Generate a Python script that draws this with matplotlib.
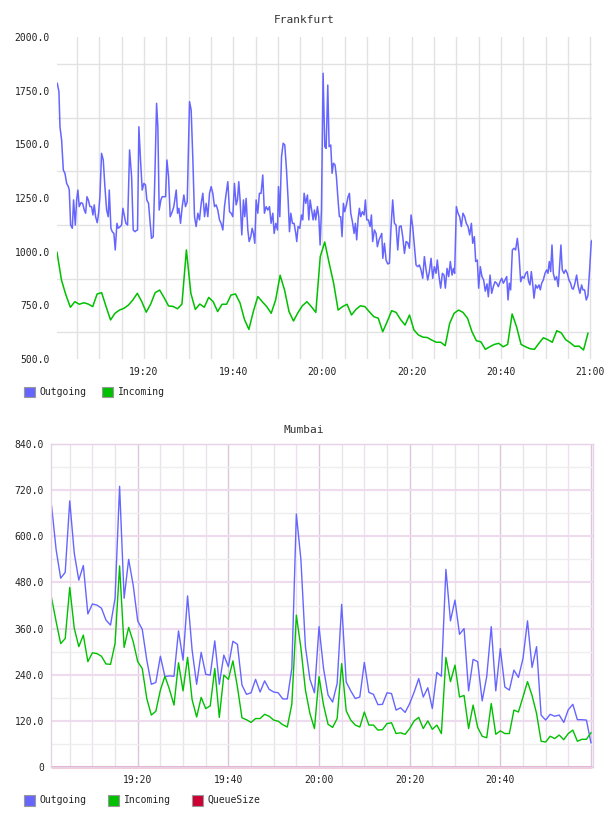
import numpy as np
import matplotlib
matplotlib.use('Agg')
import matplotlib.pyplot as plt
import matplotlib.dates as mdates
from matplotlib.patches import Rectangle
from matplotlib.ticker import FixedLocator, FuncFormatter

plt.rcParams['font.family'] = ['DejaVu Sans Mono']

# ---- Frankfurt: Outgoing (minutes after 19:00, value) ----
fra_out_t = [0.57, 0.94, 1.16, 1.54, 1.91, 2.28, 2.66, 3.03, 3.25, 3.55, 3.93, 4.22, 4.60, 4.90, 5.19, 5.49, 5.87,
             6.24, 6.61, 6.91, 7.21, 7.51, 7.88, 8.25, 8.55, 8.85, 9.15, 9.52, 9.82, 10.12, 10.49, 10.87, 11.24,
             11.61, 11.99, 12.21, 12.58, 12.88, 13.25, 13.55, 13.93, 14.22, 14.67, 14.97, 15.27, 15.64, 15.94,
             16.31, 16.76, 17.21, 17.58, 17.96, 18.25, 18.55, 18.85, 19.22, 19.60, 19.97, 20.34, 20.64, 21.01,
             21.31, 21.69, 22.06, 22.43, 22.81, 23.10, 23.40, 23.78, 24.07,
             24.83, 25.13, 25.50, 25.87, 26.32, 26.69, 27.22, 27.51, 27.81, 28.19, 28.56, 28.93, 29.30, 29.68,
             30.20, 30.57, 30.95, 31.32, 31.69, 32.07, 32.44, 32.81, 33.19, 33.56, 33.93, 34.30, 34.68, 35.05,
             35.42, 35.80, 36.17, 36.54, 36.92, 37.29, 37.66, 38.04, 38.41, 38.78, 39.16, 39.53, 39.90, 40.27,
             40.65, 40.95, 41.24, 41.54, 41.92, 42.29, 42.59, 42.89, 43.26, 43.56, 43.93, 44.23, 44.53, 44.83,
             45.13, 45.50, 45.87, 46.24, 46.62, 46.99, 47.36, 47.74, 48.11, 48.48, 48.86,
             49.17, 49.54, 49.91, 50.14, 50.43, 50.81, 51.18, 51.55, 51.93, 52.30, 52.60, 52.90, 53.27, 53.64,
             54.02, 54.24, 54.54, 54.91, 55.29, 55.58, 55.88, 56.25, 56.63, 56.93, 57.23, 57.52, 57.90, 58.20,
             58.49, 58.87, 59.17, 59.46, 59.76, 60.14, 60.51, 60.81, 61.18, 61.48, 61.85, 62.15, 62.45, 62.82,
             63.12, 63.49, 63.79, 64.09, 64.39, 64.69, 64.99, 65.36, 65.73, 66.03, 66.33, 66.70, 67.08, 67.37,
             67.67, 67.97, 68.27, 68.57, 68.94, 69.32, 69.61, 69.91, 70.29, 70.66, 70.96, 71.25, 71.63, 72.00,
             72.30, 72.67,
             73.28, 73.51, 73.88, 74.25, 74.62, 75.00, 75.37, 75.74, 76.12, 76.49, 76.86, 77.24, 77.61, 77.98,
             78.36, 78.73, 79.10, 79.48, 79.85, 80.22, 80.60, 80.97, 81.34, 81.71, 82.09, 82.46, 82.83, 83.21,
             83.58, 83.95, 84.33, 84.70, 85.07, 85.45, 85.74, 86.12, 86.49, 86.86, 87.24, 87.54, 87.91, 88.28,
             88.65, 89.03, 89.33, 89.62, 90.00, 90.37, 90.74, 91.12, 91.49, 91.86, 92.24, 92.61, 92.98, 93.36,
             93.66, 94.03, 94.33, 94.70, 95.00, 95.37, 95.74, 96.12, 96.49, 96.86,
             97.17, 97.55, 97.92, 98.29, 98.67, 99.04, 99.41, 99.79, 100.16, 100.53, 100.90, 101.28, 101.58,
             101.87, 102.17, 102.55, 102.92, 103.29, 103.67, 104.04, 104.41, 104.79, 105.16, 105.53, 105.90,
             106.20, 106.50, 106.80, 107.10, 107.40, 107.77, 108.14, 108.52, 108.81, 109.11, 109.49, 109.86,
             110.23, 110.53, 110.83, 111.13, 111.43, 111.73, 112.10, 112.47, 112.84, 113.14, 113.44, 113.74,
             114.11, 114.49, 114.86, 115.23, 115.60, 115.90, 116.20, 116.58, 116.95, 117.32, 117.70, 118.07,
             118.37, 118.74, 119.11, 119.49, 119.86, 120.23, 120.40]
fra_out_v = [1784, 1745, 1582, 1520, 1380, 1365, 1318, 1303, 1287, 1124, 1109, 1241, 1124, 1241, 1287, 1210, 1228,
             1225, 1194, 1179, 1256, 1241, 1210, 1210, 1171, 1218, 1163, 1135, 1179, 1256, 1458, 1427, 1303,
             1194, 1163, 1287, 1109, 1093, 1085, 1008, 1132, 1109, 1117, 1124, 1202, 1163, 1132,
             1124, 1474, 1350, 1101, 1093, 1098, 1101, 1582, 1427, 1287, 1318, 1311, 1241, 1225,
             1148, 1062, 1070, 1350, 1691, 1582, 1194, 1241, 1256,
             1256, 1427, 1350, 1163, 1186, 1210, 1287, 1179, 1202, 1132, 1210, 1264, 1210, 1233,
             1699, 1660, 1427, 1163, 1117, 1179, 1148, 1225, 1272, 1163, 1225, 1163, 1272, 1303,
             1272, 1210, 1218, 1194, 1148, 1132, 1101, 1210, 1272, 1326, 1186, 1179, 1163, 1318,
             1218, 1241, 1326, 1241, 1078, 1241, 1163, 1248, 1101, 1047, 1070, 1109, 1085, 1039,
             1241, 1179, 1272, 1272, 1357, 1179, 1210, 1194, 1210, 1132, 1179,
             1085, 1132, 1101, 1303, 1163, 1443, 1505, 1497, 1381, 1241, 1093, 1179, 1132, 1132,
             1085, 1047, 1117, 1109, 1171, 1148, 1272, 1225, 1264, 1148, 1241, 1202, 1148, 1194,
             1148, 1210, 1163, 1031, 1194, 1831, 1489, 1481, 1776, 1489, 1497, 1365, 1412, 1404,
             1350, 1241, 1163, 1163, 1070, 1225, 1186, 1218, 1256, 1272, 1179, 1140, 1085, 1132,
             1055, 1148, 1202, 1163, 1186, 1171, 1241, 1148, 1148, 1117, 1171, 1047, 1101, 1085,
             1023, 1055,
             1085, 969, 1039, 961, 943, 946, 1117, 1241, 1132, 1124, 1008, 1117, 1120, 1070,
             992, 1047, 1042, 1016, 1171, 1117, 1023, 938, 930, 938, 915, 876, 977, 915,
             868, 907, 969, 876, 930, 899, 961, 884, 830, 899, 891, 830, 922, 884,
             954, 891, 922, 899, 1210, 1179, 1163, 1117, 1179, 1163, 1132, 1117, 1078, 1132,
             1039, 1070, 954, 961, 830, 930, 884, 868, 816, 850,
             790, 891, 806, 837, 860, 853, 837, 860, 876, 853, 868, 884, 775,
             853, 822, 1008, 1016, 1008, 1062, 992, 860, 884, 876, 899, 907,
             860, 845, 907, 853, 783, 845, 830, 845, 822, 853, 868, 899,
             915, 899, 954, 907, 1031, 899, 868, 884, 837, 930, 1031, 915,
             899, 915, 899, 868, 853, 830, 825, 853, 891, 837, 806, 845,
             822, 822, 775, 795, 915, 1047, 1052]

# ---- Frankfurt: Incoming, one value per minute from 19:00:30 ----
fra_in_v = [997, 868, 798, 741, 767, 755, 762, 756, 744, 803, 809, 744, 682, 713, 728, 736, 751, 775, 806, 767,
            718, 756, 809, 821, 786, 747, 745, 734, 756, 1008, 806, 731, 756, 741, 787, 767, 721, 755, 755, 798,
            803, 762, 685, 638, 721, 791, 767, 744, 713, 775, 890, 821, 721, 677, 716,
            748, 767, 744, 717, 977, 1045, 946, 853, 728, 744, 755, 705, 731, 748, 744, 720, 697, 690,
            627, 674, 725, 717, 684, 658, 705, 635, 612, 602, 600, 588, 578, 578, 562, 666, 713, 728, 717, 690,
            627, 585, 580, 545,
            557, 568, 573, 557, 568, 710, 650, 568, 557, 548, 545, 573, 599, 590, 578, 632, 622, 590, 576, 559,
            560, 542, 620]

# ---- Mumbai: one value per minute from 19:01 ----
mum_out_v = [679, 565, 491, 506, 692, 556, 486, 524, 398, 424, 421, 413, 382, 369, 439, 730, 439, 540, 473, 380,
             358, 278, 215, 220, 288, 235, 237, 236, 354, 278, 445, 304, 215, 298, 241, 239, 328, 215, 291, 261,
             327, 319, 213, 189, 193, 228, 195, 224, 202, 195, 193, 177, 177, 256, 658, 540,
             313, 228, 193, 365, 256, 187, 169, 217, 423, 221, 198, 178, 182, 272, 194, 189, 162, 163, 193, 191,
             148, 154, 142, 165, 195, 230, 182, 206, 152, 246, 236, 514, 380, 434, 345, 360, 198, 280, 274, 172,
             235, 365, 198, 308, 208, 200, 252, 233, 282, 380, 259, 313, 135, 122, 137, 132, 135, 116, 149, 163,
             123, 123, 122, 63]
mum_in_v = [439, 378, 321, 334, 467, 361, 313, 343, 274, 297, 295, 288, 268, 267, 321, 523, 311, 363, 326, 274,
            256, 178, 135, 145, 200, 236, 202, 161, 271, 198, 285, 175, 130, 181, 152, 159, 256, 129, 239, 228,
            276, 208, 128, 123, 116, 126, 126, 137, 132, 122, 119, 110, 104, 163, 395, 310,
            200, 139, 100, 235, 161, 111, 103, 126, 269, 146, 122, 109, 104, 143, 109, 109, 96, 97, 113, 115,
            87, 89, 85, 100, 120, 129, 100, 120, 98, 109, 87, 285, 222, 265, 182, 186, 100, 161, 103, 80,
            76, 165, 85, 94, 87, 87, 148, 143, 182, 222, 186, 139, 67, 65, 80, 74, 83, 71, 87, 96,
            67, 72, 72, 89]
mum_queue_v = [0] * 120

BLUE = '#6666ff'
GREEN = '#00c000'
RED = '#cc0033'
TXT = '#222222'

base = np.datetime64('2024-01-01T19:00:00')


def to_time(minutes):
    return base + (np.asarray(minutes) * 60).round().astype(int).astype('timedelta64[s]')


fra_in_t = 0.5 + np.arange(len(fra_in_v))
mum_t = 1.0 + np.arange(len(mum_out_v))

W, H = 608, 816
fig = plt.figure(figsize=(W / 100, H / 100), dpi=100)


def fx(x):
    return x / W


def fy(y):
    return 1 - y / H


def style_time_axis(ax, skip_21=False):
    ax.xaxis.set_major_locator(mdates.MinuteLocator(byminute=[0, 20, 40]))
    ax.xaxis.set_minor_locator(mdates.MinuteLocator(byminute=range(0, 60, 5)))
    fmt = mdates.DateFormatter('%H:%M')
    if skip_21:
        ax.xaxis.set_major_formatter(FuncFormatter(
            lambda v, p: '' if mdates.num2date(v).hour == 21 else fmt(v, p)))
    else:
        ax.xaxis.set_major_formatter(fmt)
    ax.tick_params(which='both', length=0, labelsize=7, colors=TXT)
    ax.tick_params(axis='x', pad=6)
    ax.tick_params(axis='y', pad=5)
    ax.set_axisbelow(True)


# ---------------- Frankfurt ----------------
ax1 = fig.add_axes([fx(57), fy(359), fx(592) - fx(57), fy(37) - fy(359)])
ax1.plot(to_time(fra_out_t), fra_out_v, color=BLUE, lw=1.1)
ax1.plot(to_time(fra_in_t), fra_in_v, color=GREEN, lw=1.1)
ax1.set_xlim(to_time(0.5), to_time(120.4))
ax1.set_ylim(500, 2000)
ax1.yaxis.set_major_locator(FixedLocator(np.arange(500, 2001, 250)))
ax1.yaxis.set_minor_locator(FixedLocator(np.arange(625, 2000, 250)))
ax1.yaxis.set_major_formatter(FuncFormatter(lambda v, p: f'{v:.1f}'))
style_time_axis(ax1)
ax1.grid(True, axis='x', which='both', color='#e2e2e2', lw=1)
ax1.grid(True, axis='y', which='minor', color='#e2e2e2', lw=1)
for s in ax1.spines.values():
    s.set_visible(False)

# ---------------- Mumbai ----------------
ax2 = fig.add_axes([fx(51), fy(767), fx(593) - fx(51), fy(444) - fy(767)])
ax2.plot(to_time(mum_t), mum_out_v, color=BLUE, lw=1.0)
ax2.plot(to_time(mum_t), mum_in_v, color=GREEN, lw=1.0)
ax2.plot(to_time(mum_t), mum_queue_v, color=RED, lw=1.0, clip_on=False)
ax2.set_xlim(to_time(0.87), to_time(120.45))
ax2.set_ylim(0, 840)
ax2.yaxis.set_major_locator(FixedLocator(np.arange(0, 841, 120)))
ax2.yaxis.set_minor_locator(FixedLocator(np.arange(60, 840, 120)))
ax2.yaxis.set_major_formatter(FuncFormatter(lambda v, p: '0' if v == 0 else f'{v:.1f}'))
style_time_axis(ax2, skip_21=True)
ax2.grid(True, axis='x', which='minor', color='#ebe3eb', lw=1)
ax2.grid(True, axis='x', which='major', color='#dcc6dc', lw=1)
ax2.grid(True, axis='y', which='minor', color='#eeeeee', lw=1)
ax2.grid(True, axis='y', which='major', color='#eedcee', lw=1.5)
for s in ax2.spines.values():
    s.set_color('#e6d2e6')
    s.set_linewidth(1)

# ---------------- titles ----------------
fig.text(fx(304), fy(20), 'Frankfurt', ha='center', va='center', fontsize=8, color='#333333')
fig.text(fx(304), fy(430), 'Mumbai', ha='center', va='center', fontsize=8, color='#333333')


# ---------------- legends ----------------
def legend_item(x_box, x_text, y_mid, color, label):
    fig.add_artist(Rectangle((fx(x_box), fy(y_mid + 5.5)), fx(11), 11 / H, transform=fig.transFigure,
                             facecolor=color, edgecolor='#999999', lw=0.8))
    fig.text(fx(x_text), fy(y_mid), label, ha='left', va='center', fontsize=7, color=TXT)


legend_item(24, 39, 392, BLUE, 'Outgoing')
legend_item(102, 118, 392, GREEN, 'Incoming')

legend_item(24, 39, 800, BLUE, 'Outgoing')
legend_item(108, 124, 800, GREEN, 'Incoming')
legend_item(192, 207, 800, RED, 'QueueSize')

fig.savefig('out.png', dpi=100)
